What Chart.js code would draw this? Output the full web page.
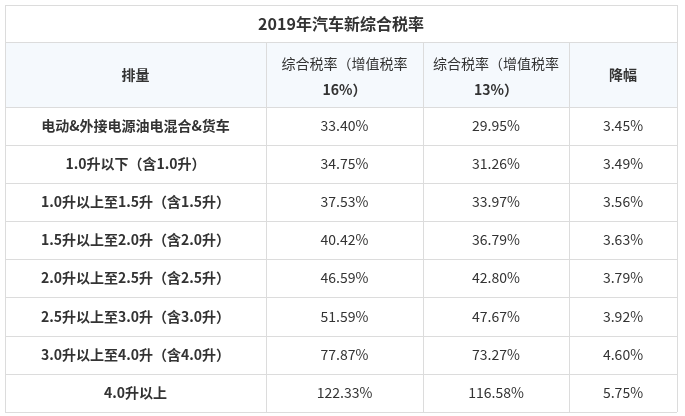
<!DOCTYPE html>
<html><head><meta charset="utf-8">
<script src="https://cdn.jsdelivr.net/npm/chart.js@4"></script>
<style>html,body{margin:0;background:#fff}#wrap{width:685px;height:416px}</style>
</head><body><div id="wrap"><canvas id="taxTable"></canvas></div>
<script>
const title = '2019年汽车新综合税率';
const headers = ['排量', ['综合税率（增值税率', '16%）'], ['综合税率（增值税率', '13%）'], '降幅'];
const categories = ['电动&外接电源油电混合&货车', '1.0升以下（含1.0升）', '1.0升以上至1.5升（含1.5升）',
  '1.5升以上至2.0升（含2.0升）', '2.0升以上至2.5升（含2.5升）', '2.5升以上至3.0升（含3.0升）',
  '3.0升以上至4.0升（含4.0升）', '4.0升以上'];
const rate16 = [33.40, 34.75, 37.53, 40.42, 46.59, 51.59, 77.87, 122.33];
const rate13 = [29.95, 31.26, 33.97, 36.79, 42.80, 47.67, 73.27, 116.58];
const drop = [3.45, 3.49, 3.56, 3.63, 3.79, 3.92, 4.60, 5.75];

// layout in scale units
const colEdges = [5, 266, 423, 569, 677];
const rowEdges = [5, 42, 107, 145, 183, 221, 259, 297, 336, 374, 412];
const font = '"Noto Sans CJK SC", "Noto Sans", sans-serif';

const tablePlugin = {
  id: 'table',
  afterDraw(chart) {
    const ctx = chart.ctx, xs = chart.scales.x, ys = chart.scales.y;
    const X = v => xs.getPixelForValue(v), Y = v => ys.getPixelForValue(v);
    ctx.save();
    ctx.fillStyle = '#f5f9fd';
    ctx.fillRect(X(colEdges[0]), Y(rowEdges[1]), X(colEdges[4]) - X(colEdges[0]), Y(rowEdges[2]) - Y(rowEdges[1]));
    ctx.strokeStyle = '#dcdcdc';
    ctx.lineWidth = 1;
    rowEdges.forEach(r => { ctx.beginPath(); ctx.moveTo(X(colEdges[0]), Y(r) + .5); ctx.lineTo(X(colEdges[4]), Y(r) + .5); ctx.stroke(); });
    colEdges.forEach((c, i) => {
      ctx.beginPath();
      ctx.moveTo(X(c) + .5, Y(i === 0 || i === 4 ? rowEdges[0] : rowEdges[1]));
      ctx.lineTo(X(c) + .5, Y(rowEdges[rowEdges.length - 1]));
      ctx.stroke();
    });
    ctx.textAlign = 'center'; ctx.textBaseline = 'middle';
    ctx.fillStyle = '#333';
    const cx = i => (X(colEdges[i]) + X(colEdges[i + 1])) / 2;
    const cy = r => (Y(rowEdges[r]) + Y(rowEdges[r + 1])) / 2;
    ctx.font = 'bold 16px ' + font;
    ctx.fillText(title, (X(colEdges[0]) + X(colEdges[4])) / 2, cy(0));
    headers.forEach((h, i) => {
      if (Array.isArray(h)) {
        ctx.font = '14px ' + font; ctx.fillText(h[0], cx(i), cy(1) - 11);
        ctx.font = 'bold 14px ' + font; ctx.fillText(h[1], cx(i), cy(1) + 15);
      } else {
        ctx.font = 'bold 14px ' + font; ctx.fillText(h, cx(i), cy(1));
      }
    });
    categories.forEach((c, r) => {
      const y = cy(r + 2);
      ctx.font = 'bold 14px ' + font; ctx.fillText(c, cx(0), y);
      ctx.font = '14px ' + font;
      ctx.fillText(rate16[r].toFixed(2) + '%', cx(1), y);
      ctx.fillText(rate13[r].toFixed(2) + '%', cx(2), y);
      ctx.fillText(drop[r].toFixed(2) + '%', cx(3), y);
    });
    ctx.restore();
  }
};

new Chart(document.getElementById('taxTable'), {
  type: 'scatter',
  data: { datasets: [{ data: [] }] },
  options: {
    responsive: true, maintainAspectRatio: false, animation: false,
    layout: { padding: 0 },
    plugins: { legend: { display: false }, tooltip: { enabled: false } },
    scales: {
      x: { type: 'linear', min: 0, max: 685, display: false },
      y: { type: 'linear', min: 0, max: 416, reverse: true, display: false }
    }
  },
  plugins: [tablePlugin]
});
</script></body></html>
